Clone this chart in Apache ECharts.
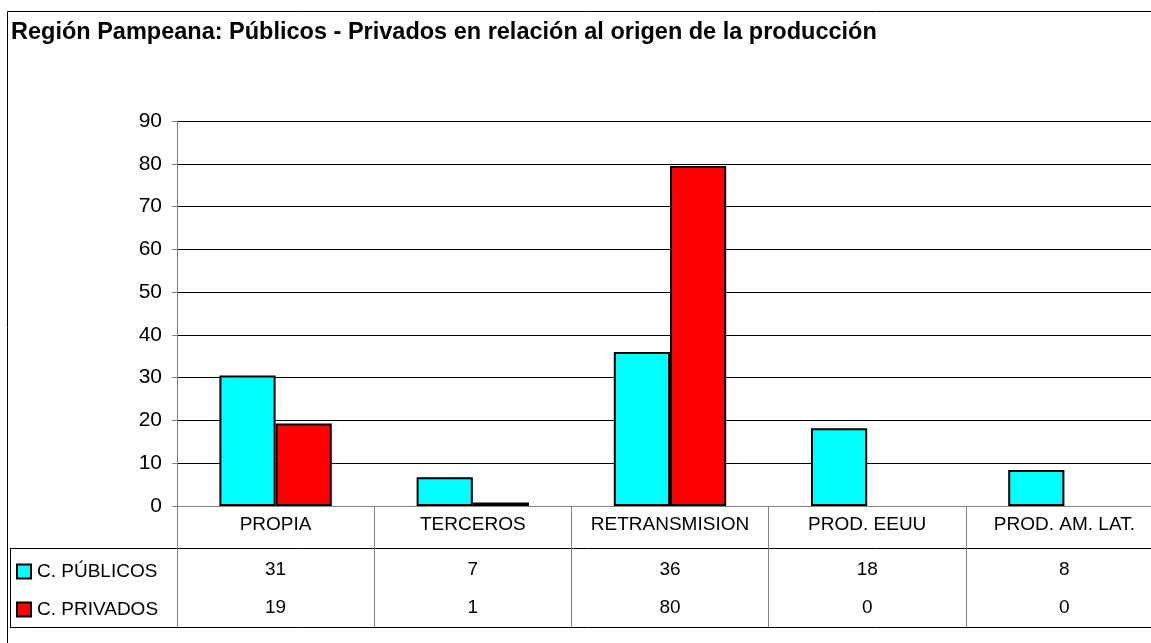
<!DOCTYPE html>
<html>
<head>
<meta charset="utf-8">
<script src="https://cdn.jsdelivr.net/npm/echarts@6/dist/echarts.min.js"></script>
<style>
  html, body { margin: 0; padding: 0; background: #fff; overflow: hidden; }
  #chart { width: 1165px; height: 643px; }
</style>
</head>
<body>
<div id="chart"></div>
<script>
// categorias y valores
var categorias = ['PROPIA', 'TERCEROS', 'RETRANSMISION', 'PROD. EEUU', 'PROD. AM. LAT.'];
var publicos = [30.5, 6.7, 36, 18.2, 8.4];
var privados = [19.3, 0.8, 79.5, 0, 0];
var nombres = ['C. PÚBLICOS', 'C. PRIVADOS'];
var colores = ['#00FFFF', '#FF0000'];

var fuente = '"Liberation Sans", Arial, sans-serif';
var chart = echarts.init(document.getElementById('chart'));

// las barras en cero no se dibujan (sin borde)
function barras(valores) {
  return valores.map(function (v) {
    return v === 0 ? { value: v, itemStyle: { borderWidth: 0 } } : v;
  });
}

var option = {
  animation: false,
  textStyle: { fontFamily: fuente },
  title: {
    text: 'Región Pampeana: Públicos - Privados en relación al origen de la producción',
    left: 11, top: 21,
    padding: 0,
    textStyle: { fontSize: 23.5, fontWeight: 'bold', color: '#000', fontFamily: fuente }
  },
  legend: {
    orient: 'vertical',
    left: 16, top: 562,
    padding: 0,
    itemWidth: 14, itemHeight: 14,
    itemGap: 19,
    icon: 'rect',
    data: nombres,
    textStyle: { fontSize: 19, color: '#000', padding: [0, 0, 0, 1] }
  },
  grid: { left: 177, right: 2, top: 121, bottom: 137 },
  xAxis: {
    type: 'category',
    data: categorias,
    axisLine: { lineStyle: { color: '#808080', width: 1 } },
    axisTick: { show: true, length: 121, interval: 0, lineStyle: { color: '#808080' } },
    axisLabel: {
      interval: 0,
      margin: 0,
      color: '#000',
      fontSize: 19,
      formatter: function (v, i) {
        return '{h|' + v + '}\n{a|' + Math.round(publicos[i]) + '}\n{b|' + Math.round(privados[i]) + '}';
      },
      rich: {
        h: { fontSize: 19, lineHeight: 37, color: '#000' },
        a: { fontSize: 19, lineHeight: 53, color: '#000' },
        b: { fontSize: 19, lineHeight: 23, color: '#000' }
      }
    }
  },
  yAxis: {
    type: 'value',
    min: 0, max: 90, interval: 10,
    axisLine: { show: true, lineStyle: { color: '#808080' } },
    axisTick: { show: true, length: 5, lineStyle: { color: '#808080' } },
    axisLabel: { color: '#000', fontSize: 21, margin: 15 },
    splitLine: { lineStyle: { color: '#000', width: 1 } }
  },
  series: [
    {
      name: nombres[0], type: 'bar', data: barras(publicos),
      barGap: '0%', barCategoryGap: '43%',
      itemStyle: { color: colores[0], borderColor: '#000', borderWidth: 2 }
    },
    {
      name: nombres[1], type: 'bar', data: barras(privados),
      barGap: '0%', barCategoryGap: '43%',
      itemStyle: { color: colores[1], borderColor: '#000', borderWidth: 2 }
    }
  ],
  graphic: [
    // marco exterior
    { type: 'rect', silent: true, shape: { x: 7.5, y: 11.5, width: 1300, height: 800 },
      style: { fill: null, stroke: '#000', lineWidth: 1 } },
    // lineas de la tabla
    { type: 'line', silent: true, shape: { x1: 10, y1: 548.5, x2: 1165, y2: 548.5 },
      style: { stroke: '#000', lineWidth: 1 } },
    { type: 'line', silent: true, shape: { x1: 10, y1: 627.5, x2: 1165, y2: 627.5 },
      style: { stroke: '#000', lineWidth: 1 } },
    { type: 'line', silent: true, shape: { x1: 10.5, y1: 548, x2: 10.5, y2: 628 },
      style: { stroke: '#000', lineWidth: 1 } }
  ]
};
chart.setOption(option);
</script>
</body>
</html>
